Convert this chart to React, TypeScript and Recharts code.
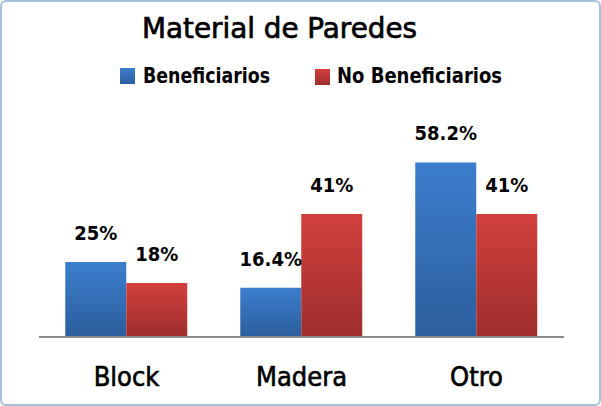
import { BarChart, Bar, XAxis, YAxis, LabelList } from "recharts";

const categories = ["Block", "Madera", "Otro"];
const beneficiarios = [25, 16.4, 58.2];
const noBeneficiarios = [18, 41, 41];
const seriesNames = ["Beneficiarios", "No Beneficiarios"];

const data = categories.map((name, i) => ({
  name,
  ben: beneficiarios[i],
  noBen: noBeneficiarios[i],
}));

const FONT = "'DejaVu Sans Condensed', 'DejaVu Sans', sans-serif";
const FONT_WIDE = "'DejaVu Sans', sans-serif";

const pct = (v: unknown) => `${v}%`;

const labelStyle = {
  fill: "#000",
  fontSize: 20,
  fontWeight: "bold",
  fontFamily: FONT,
};

export default function App() {
  return (
    <div
      style={{
        position: "absolute",
        left: 0,
        top: 0,
        width: 601,
        height: 406,
        background: "#fff",
        fontFamily: FONT,
      }}
    >
      <BarChart
        width={601}
        height={406}
        data={data}
        margin={{ top: 157, right: 37, bottom: 0, left: 39 }}
        barCategoryGap="15%"
        barGap={0}
      >
        <defs>
          <linearGradient id="gBlue" x1="0" y1="0" x2="0" y2="1">
            <stop offset="0%" stopColor="#3C7ECD" />
            <stop offset="100%" stopColor="#2C5E9C" />
          </linearGradient>
          <linearGradient id="gRed" x1="0" y1="0" x2="0" y2="1">
            <stop offset="0%" stopColor="#D2403D" />
            <stop offset="100%" stopColor="#9E2E2D" />
          </linearGradient>
        </defs>
        <YAxis hide domain={[0, 60]} />
        <XAxis
          dataKey="name"
          height={69}
          tickLine={false}
          axisLine={{ stroke: "#8a8a8a", strokeWidth: 2 }}
          tickMargin={24}
          tick={{
            fill: "#000",
            stroke: "#000",
            strokeWidth: 0.6,
            fontSize: 27,
            fontFamily: FONT,
          }}
        />
        <Bar dataKey="ben" fill="url(#gBlue)" isAnimationActive={false}>
          <LabelList dataKey="ben" position="top" offset={22} formatter={pct} style={labelStyle} />
        </Bar>
        <Bar dataKey="noBen" fill="url(#gRed)" isAnimationActive={false}>
          <LabelList dataKey="noBen" position="top" offset={22} formatter={pct} style={labelStyle} />
        </Bar>
      </BarChart>

      {/* title + legend overlay */}
      <svg
        width={601}
        height={100}
        style={{ position: "absolute", left: 0, top: 0, pointerEvents: "none" }}
      >
        <defs>
          <linearGradient id="lBlue" x1="0" y1="0" x2="0" y2="1">
            <stop offset="0%" stopColor="#3C7ECD" />
            <stop offset="100%" stopColor="#2C5E9C" />
          </linearGradient>
          <linearGradient id="lRed" x1="0" y1="0" x2="0" y2="1">
            <stop offset="0%" stopColor="#D2403D" />
            <stop offset="100%" stopColor="#9E2E2D" />
          </linearGradient>
        </defs>
        <text
          x={142}
          y={38}
          fontSize={27.5}
          fontFamily={FONT_WIDE}
          fill="#000"
          stroke="#000"
          strokeWidth={0.7}
          textLength={275}
          lengthAdjust="spacingAndGlyphs"
        >
          Material de Paredes
        </text>
        <rect x={120} y={68} width={15} height={16} fill="url(#lBlue)" />
        <text
          x={143}
          y={83}
          fontSize={22}
          fontWeight="bold"
          fontFamily={FONT}
          fill="#000"
          textLength={127}
          lengthAdjust="spacingAndGlyphs"
        >
          {seriesNames[0]}
        </text>
        <rect x={315} y={69} width={15} height={16} fill="url(#lRed)" />
        <text
          x={337}
          y={83}
          fontSize={22}
          fontWeight="bold"
          fontFamily={FONT}
          fill="#000"
          textLength={165}
          lengthAdjust="spacingAndGlyphs"
        >
          {seriesNames[1]}
        </text>
      </svg>

      <div
        style={{
          position: "absolute",
          left: 0,
          top: 0,
          width: 597,
          height: 402,
          border: "2px solid #A7C0DE",
          borderRadius: 6,
          pointerEvents: "none",
        }}
      />
    </div>
  );
}
